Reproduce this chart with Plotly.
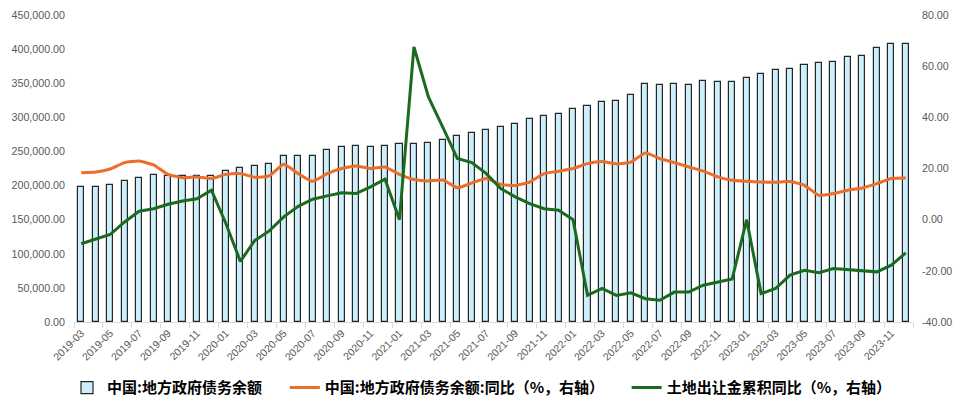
import plotly.graph_objects as go

months = [f"{y}-{m:02d}" for y in range(2019, 2024) for m in range(1, 13)][2:]

debt = [197400, 197400, 200300, 206700, 211600, 216000, 214500, 214500, 214500, 214000,
        221800, 226200, 229200, 232100, 243800, 242800, 242800, 252600, 257000, 258500,
        257000, 258000, 261400, 261400, 262900, 266800, 272600, 276500, 280900, 285800,
        290200, 298000, 302400, 305400, 312700, 317100, 322500, 323500, 333200, 348900,
        347900, 348900, 347900, 353300, 351800, 351800, 357700, 363000, 369400, 371300,
        376200, 379600, 381100, 388400, 389900, 402100, 408000, 408000]

debt_yoy = [18.3, 18.6, 19.8, 22.3, 22.9, 21.4, 17.7, 16.4, 16.7, 16.1,
            17.7, 18.0, 16.6, 17.1, 21.7, 18.0, 15.0, 18.0, 20.0, 21.0,
            20.0, 20.6, 17.7, 15.7, 15.1, 15.5, 12.5, 14.3, 16.1, 13.8,
            13.4, 14.7, 18.0, 18.9, 20.0, 21.9, 22.7, 21.8, 22.5, 26.1,
            23.9, 22.3, 20.6, 19.0, 16.7, 15.4, 15.0, 14.7, 14.6, 14.9,
            13.4, 9.5, 10.2, 11.5, 12.4, 14.1, 16.1, 16.3]

land_yoy = [-9.4, -7.5, -5.8, -0.9, 3.3, 4.3, 6.0, 7.3, 8.2, 11.5,
            -1.5, -16.3, -8.1, -4.4, 1.1, 5.2, 8.0, 9.3, 10.5, 10.2,
            12.8, 15.8, 0.0, 67.5, 48.0, 36.1, 23.9, 22.3, 18.0, 12.2,
            8.9, 6.3, 4.3, 3.7, 0.0, -29.6, -26.9, -29.6, -28.6, -30.9,
            -31.5, -28.3, -28.3, -25.6, -24.3, -23.2, 0.0, -28.9, -26.9, -21.7,
            -19.8, -20.7, -19.1, -19.5, -19.8, -20.4, -17.8, -13.0]

left_ticks = [0, 50000, 100000, 150000, 200000, 250000, 300000, 350000, 400000, 450000]
right_ticks = [-40, -20, 0, 20, 40, 60, 80]

xs = list(range(len(months)))
FONT = "Liberation Sans, Arial, Noto Sans CJK SC"
GRAY = "#595959"

# the html page adds an 8px body margin; compensate so the plot lands where the reference is
OFF = 8
PLOT_L, PLOT_R, PLOT_T, PLOT_B = 74 - OFF, 913.5 - OFF, 14.7 - OFF, 321.7 - OFF
W, H = 965 - OFF, 408 - OFF


def px_to_paper_x(px):
    return (px - OFF - PLOT_L) / (PLOT_R - PLOT_L)


def py_to_paper_y(py):
    return (PLOT_B - (py - OFF)) / (PLOT_B - PLOT_T)


fig = go.Figure()
fig.add_trace(go.Bar(
    x=xs, y=debt, name="中国:地方政府债务余额",
    marker=dict(color="#CDEFFB", line=dict(color="#262626", width=1.2)),
    width=0.42, legend="legend",
))
fig.add_trace(go.Scatter(
    x=xs, y=debt_yoy, yaxis="y2", mode="lines",
    name="中国:地方政府债务余额:同比（%，右轴）",
    line=dict(color="#ED6D2B", width=3, shape="spline", smoothing=0.5),
    legend="legend2",
))
fig.add_trace(go.Scatter(
    x=xs, y=land_yoy, yaxis="y2", mode="lines",
    name="土地出让金累积同比（%，右轴）",
    line=dict(color="#1A6B1F", width=3),
    legend="legend3",
))

legend_font = dict(family="Noto Sans CJK SC", size=15, color="black", weight="bold")
ly = py_to_paper_y(387.5)


def leg(px):
    return dict(x=px_to_paper_x(px), xanchor="left", y=ly, yanchor="middle",
                font=legend_font, bgcolor="rgba(0,0,0,0)", borderwidth=0,
                orientation="h")


fig.update_layout(
    width=W, height=H,
    margin=dict(l=PLOT_L, r=W - PLOT_R, t=PLOT_T, b=H - PLOT_B, autoexpand=False),
    plot_bgcolor="white", paper_bgcolor="white",
    font=dict(family=FONT, size=11, color=GRAY),
    bargap=0,
    xaxis=dict(
        range=[-0.5, len(months) - 0.5], automargin=False,
        tickmode="array", tickvals=xs[::2], ticktext=months[::2],
        tickangle=-45, ticks="", showgrid=False, zeroline=False,
        showline=True, linecolor="#D9D9D9", linewidth=1,
        tickfont=dict(size=10.5, color=GRAY),
        minor=dict(ticks="outside", ticklen=5, tickcolor="#D9D9D9",
                   tickmode="linear", tick0=-0.5, dtick=2, showgrid=False),
    ),
    yaxis=dict(
        range=[0, 450000], automargin=False, tickmode="array", tickvals=left_ticks,
        ticktext=[f"{v:,.2f}" for v in left_ticks],
        showgrid=False, zeroline=False, showline=False, ticks="",
        ticklabelstandoff=8,
        tickfont=dict(size=10.7, color=GRAY),
    ),
    yaxis2=dict(
        overlaying="y", side="right", range=[-40, 80], automargin=False,
        tickmode="array", tickvals=right_ticks,
        ticktext=[f"{v:.2f}" for v in right_ticks],
        showgrid=False, zeroline=False, showline=False, ticks="",
        ticklabelstandoff=8,
        tickfont=dict(size=10.7, color=GRAY),
    ),
    showlegend=True,
    legend=leg(67),
    legend2=leg(285),
    legend3=leg(627),
)

fig.write_html("out.html")
